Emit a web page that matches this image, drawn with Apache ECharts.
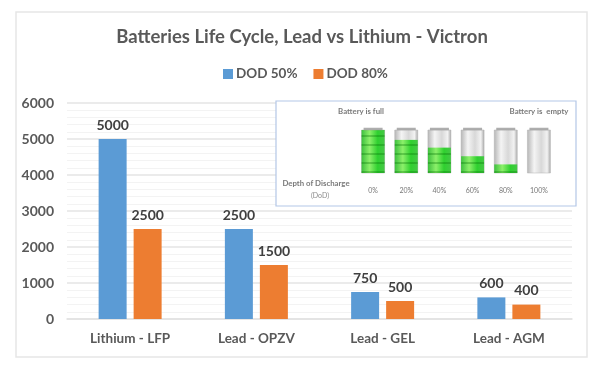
<!DOCTYPE html>
<html>
<head>
<meta charset="utf-8">
<style>html,body{margin:0;padding:0;background:#fff}#c{width:600px;height:377px}</style>
<script src="https://cdn.jsdelivr.net/npm/echarts@6/dist/echarts.min.js"></script>
</head>
<body>
<div id="c"></div>
<script>
const categories = ['Lithium - LFP', 'Lead - OPZV', 'Lead - GEL', 'Lead - AGM'];
const dod50 = [5000, 2500, 750, 600];
const dod80 = [2500, 1500, 500, 400];
const dodLabels = ['0%', '20%', '40%', '60%', '80%', '100%'];
const chargeLeft = [100, 77, 59, 39, 20, 0];
const capLevel = [100, 100, 100, 100, 100, 100];

const font = 'Lato';
const chart = echarts.init(document.getElementById('c'), null, {renderer: 'canvas'});
const barLabel = {show: true, position: 'top', distance: 7, fontFamily: font, fontWeight: 'bold', fontSize: 14, color: '#404040'};
const smallText = (text, x, y, extra) => ({
  type: 'text', z: 6, x, y,
  style: Object.assign({text, fontFamily: font, fontSize: 7.8, fontWeight: 'bold', fill: '#7a7a7a', align: 'center', verticalAlign: 'middle'}, extra || {})
});
const glass = {type: 'linear', x: 0, y: 0, x2: 1, y2: 0, colorStops: [
  {offset: 0, color: '#b5b5b5'}, {offset: 0.3, color: '#f4f4f4'}, {offset: 0.6, color: '#d8d8d8'}, {offset: 0.85, color: '#f2f2f2'}, {offset: 1, color: '#a8a8a8'}]};
const greenFill = {type: 'linear', x: 0, y: 0, x2: 1, y2: 0, colorStops: [
  {offset: 0, color: '#3fc03f'}, {offset: 0.35, color: '#8cf06a'}, {offset: 0.7, color: '#2fd02f'}, {offset: 1, color: '#45c845'}]};

chart.setOption({
  animation: false,
  backgroundColor: '#fff',
  title: {
    text: 'Batteries Life Cycle, Lead vs Lithium - Victron',
    left: 297, top: 23, textAlign: 'center',
    textStyle: {fontFamily: font, fontSize: 18.5, fontWeight: 'bold', color: '#595959'}
  },
  legend: {
    data: ['DOD 50%', 'DOD 80%'],
    left: 218, top: 62, itemWidth: 10, itemHeight: 10, itemGap: 16,
    icon: 'rect',
    textStyle: {fontFamily: font, fontSize: 13.5, fontWeight: 'bold', color: '#595959', padding: [0, 0, 0, -2]}
  },
  grid: [
    {left: 67, right: 28, top: 103, height: 216},
    {left: 356.5, width: 199, top: 130, height: 43}
  ],
  xAxis: [
    {type: 'category', gridIndex: 0, data: categories,
      axisLine: {lineStyle: {color: '#e2e2e2', width: 1.5}}, axisTick: {show: false},
      axisLabel: {margin: 13, fontFamily: font, fontWeight: 'bold', fontSize: 13.5, color: '#595959'}},
    {type: 'category', gridIndex: 1, data: dodLabels, z: 5,
      axisLine: {show: false}, axisTick: {show: false},
      axisLabel: {margin: 14, fontFamily: font, fontSize: 7, color: '#777'}}
  ],
  yAxis: [
    {type: 'value', gridIndex: 0, min: 0, max: 6000, interval: 1000,
      axisLine: {show: false}, axisTick: {show: false},
      axisLabel: {margin: 13, fontFamily: font, fontWeight: 'bold', fontSize: 14, color: '#595959', formatter: v => String(v)},
      splitLine: {lineStyle: {color: '#e4e4e4', width: 1.5}},
      minorTick: {show: false, splitNumber: 5},
      minorSplitLine: {show: true, lineStyle: {color: '#f3f3f3', width: 1}}},
    {type: 'value', gridIndex: 1, min: 0, max: 100, show: false, splitLine: {show: false}}
  ],
  series: [
    {name: 'DOD 50%', type: 'bar', data: dod50, barWidth: 28, barGap: '25%',
      itemStyle: {color: '#5B9BD5'}, label: barLabel},
    {name: 'DOD 80%', type: 'bar', data: dod80, barWidth: 28, barGap: '25%',
      itemStyle: {color: '#ED7D31'}, label: barLabel},
    {name: 'Charge', type: 'bar', xAxisIndex: 1, yAxisIndex: 1, data: chargeLeft, barWidth: 23, z: 3,
      showBackground: true,
      backgroundStyle: {color: glass, borderColor: '#b0b0b0', borderWidth: 0.5},
      itemStyle: {color: greenFill, decal: {symbol: 'rect', dashArrayX: [1, 0], dashArrayY: [1.5, 7], symbolSize: 1, color: 'rgba(0,110,0,0.3)'}}},
    {name: 'Cap', type: 'scatter', xAxisIndex: 1, yAxisIndex: 1, data: capLevel, symbol: 'rect', symbolSize: [19, 2.5], symbolOffset: [0, -1],
      clip: false, z: 4, silent: true, itemStyle: {color: '#9a9a9a'}}
  ],
  graphic: [
    {type: 'rect', z: 1, silent: true, shape: {x: 16, y: 12, width: 571, height: 345}, style: {fill: 'none', stroke: '#e6e6e6', lineWidth: 1.5}},
    {type: 'rect', z: 1, silent: true, shape: {x: 276, y: 101, width: 300, height: 105}, style: {fill: '#fff', stroke: '#b4c7e7', lineWidth: 1.2}},
    smallText('Battery is full', 361, 111),
    smallText('Battery is  empty', 539, 111),
    smallText('Depth of Discharge', 316, 183),
    smallText('(DoD)', 320, 196, {fontWeight: 'normal', fill: '#8a8a8a', fontSize: 7, textDecoration: 'underline'})
  ]
});
</script>
</body>
</html>
